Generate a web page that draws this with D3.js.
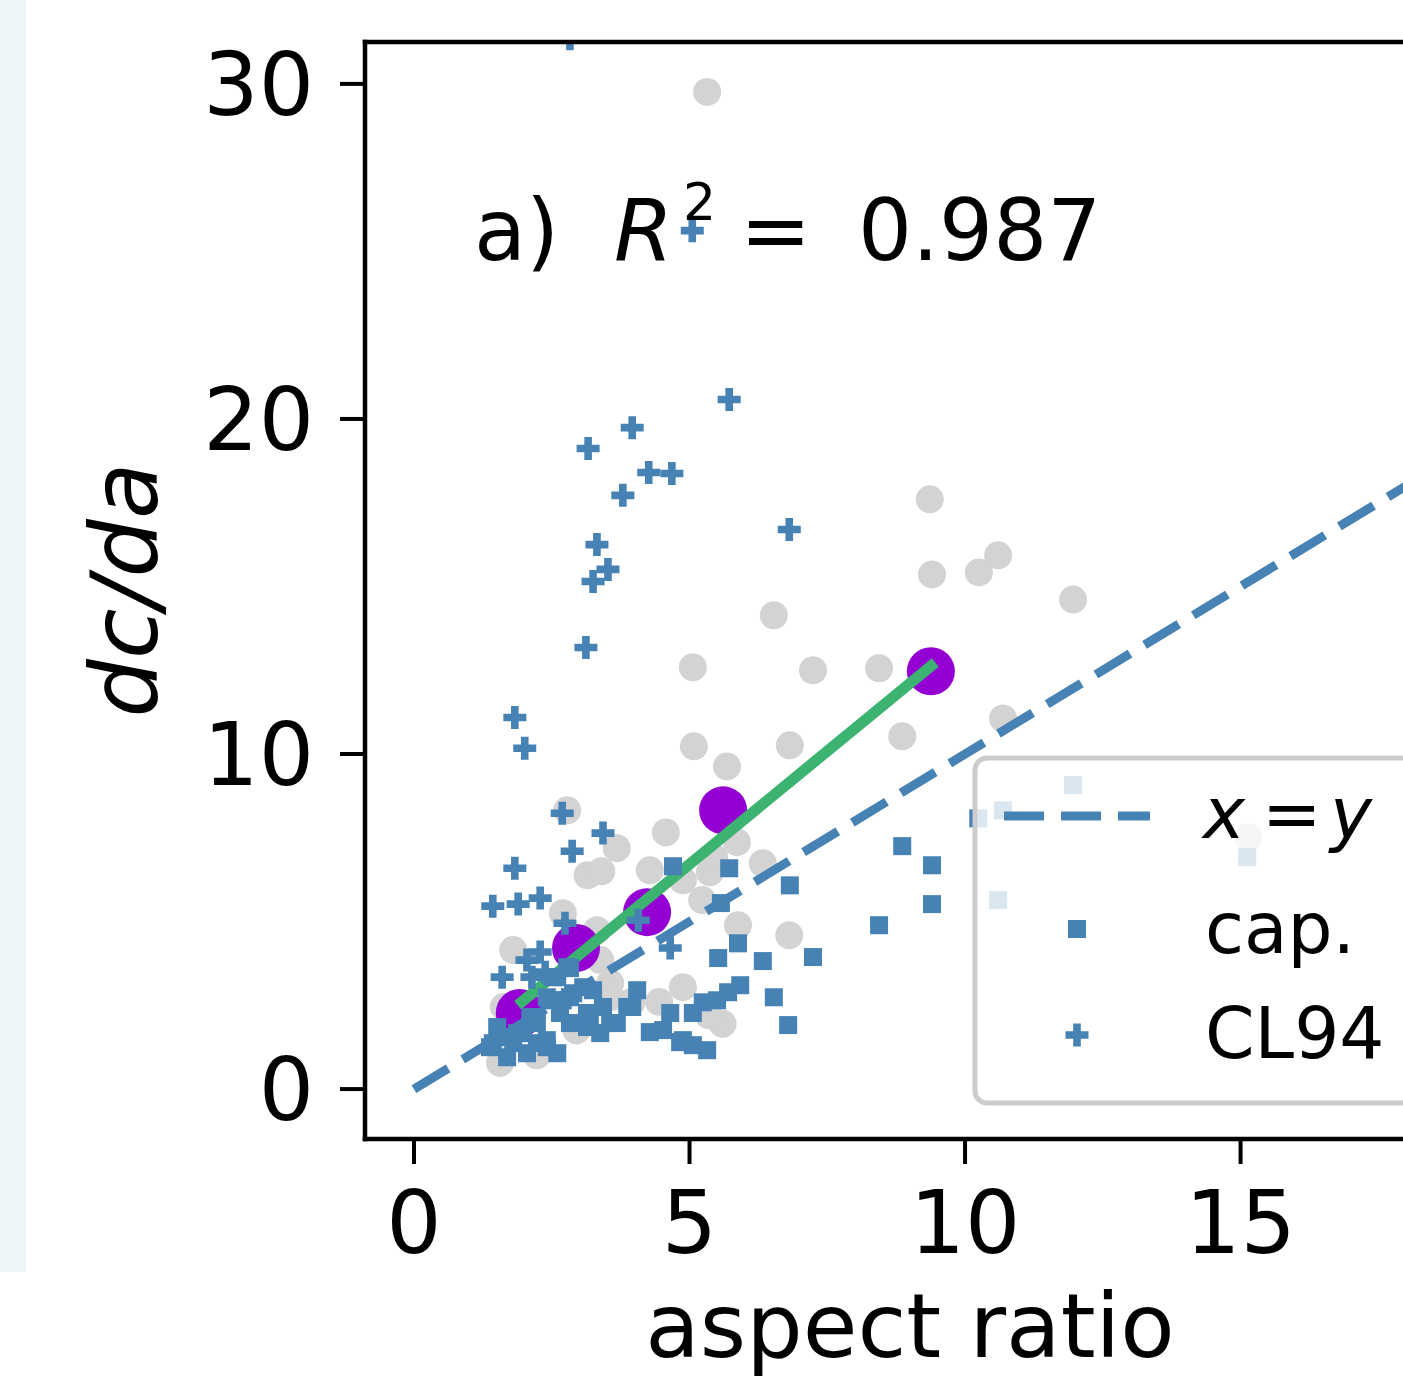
<!DOCTYPE html>
<html>
<head>
<meta charset="utf-8">
<script src="https://cdn.jsdelivr.net/npm/d3@7"></script>
<style>
  html, body { margin: 0; padding: 0; background: #ffffff; }
  svg { display: block; }
  text { font-family: "DejaVu Sans", sans-serif; fill: #000; }
</style>
</head>
<body>
<svg id="chart" width="1403" height="1380"></svg>
<script>
// ---------------- data ----------------
const xTicks = [0, 5, 10, 15];
const yTicks = [0, 10, 20, 30];

// grey background points
const grayX = [5.32, 9.36, 9.40, 10.25, 10.60, 11.96, 6.53, 5.06, 7.24, 8.44, 8.86, 10.69, 5.08, 6.82, 5.68,
  15.14, 2.78, 4.57, 3.68, 3.15, 3.40, 4.28, 4.88, 5.37, 5.86, 6.33, 5.23, 5.88, 6.81, 2.70, 1.80, 3.32,
  3.38, 3.56, 3.56, 4.88, 5.60, 1.63, 1.56, 2.23, 2.95, 3.95, 4.45, 5.45, 5.35];
const grayY = [29.76, 17.60, 15.36, 15.42, 15.93, 14.61, 14.14, 12.59, 12.50, 12.56, 10.53, 11.06, 10.23, 10.26, 9.63,
  7.52, 8.32, 7.66, 7.19, 6.38, 6.50, 6.53, 6.23, 6.47, 7.37, 6.74, 5.64, 4.89, 4.59, 5.25, 4.15, 4.74,
  3.85, 3.16, 2.74, 3.04, 1.95, 2.45, 0.78, 1.01, 1.75, 2.60, 2.60, 6.90, 2.20];

// "cap." squares
const capX = [8.86, 9.40, 9.40, 8.44, 7.24, 6.82, 6.33, 5.88, 5.52, 5.57, 5.72, 4.70, 6.53, 5.92, 5.70, 5.50,
  5.24, 5.06, 4.65, 6.79, 4.28, 4.52, 4.83, 5.06, 5.32, 4.05, 3.87, 3.68, 3.38, 3.19, 3.14, 3.43, 3.25,
  2.83, 2.83, 2.60, 2.65, 2.89, 2.41, 2.83, 2.11, 1.98, 1.51, 1.43, 1.80, 2.23, 2.41, 2.60, 1.69, 2.05,
  1.87, 2.16, 2.70, 2.78, 1.38, 2.52, 3.07, 3.56, 3.96, 2.23, 2.41, 2.52, 1.56, 3.14, 4.88,
  11.96, 10.69, 10.24, 15.12, 10.60];
const capY = [7.25, 6.68, 5.52, 4.89, 3.94, 6.08, 3.82, 4.35, 3.91, 5.55, 6.59, 6.65, 2.74, 3.10, 2.89, 2.65,
  2.59, 2.27, 2.27, 1.91, 1.70, 1.76, 1.40, 1.31, 1.16, 2.95, 2.45, 1.97, 1.67, 1.97, 2.27, 2.45, 2.95,
  2.74, 3.61, 3.34, 2.27, 2.86, 2.74, 1.97, 2.15, 1.67, 1.85, 1.37, 1.37, 1.37, 1.25, 1.07, 0.95, 1.07,
  1.67, 2.06, 2.65, 3.64, 1.25, 2.65, 3.04, 1.97, 2.45, 1.97, 1.46, 3.34, 1.55, 1.85, 1.46,
  9.07, 8.32, 8.08, 6.92, 5.64];

// "CL94" pluses
const cl94X = [2.83, 5.05, 5.72, 3.96, 3.16, 4.26, 4.68, 3.79, 6.81, 3.32, 3.52, 3.25, 3.12, 1.83, 2.01,
  2.69, 3.43, 2.87, 1.83, 1.43, 1.89, 2.29, 2.74, 4.07, 4.65, 1.60, 2.05, 2.29, 2.14, 2.38];
const cl94Y = [31.35, 25.62, 20.58, 19.74, 19.12, 18.40, 18.37, 17.72, 16.70, 16.25, 15.51, 15.15, 13.18, 11.09, 10.17,
  8.23, 7.64, 7.10, 6.59, 5.46, 5.52, 5.70, 4.95, 5.04, 4.21, 3.34, 3.85, 4.09, 3.34, 3.49];

// binned means (purple) and fit line (green)
const binX = [1.92, 2.94, 4.23, 5.61, 9.38];
const binY = [2.27, 4.21, 5.28, 8.32, 12.47];
const fitX = [1.88, 9.46];
const fitY = [2.50, 12.73];

// identity line x = y
const idX = [0, 20];
const idY = [0, 20];

const annotation = { label: "a)", stat: "R", sup: "2", value: "0.987" };
const legendItems = ["x = y", "cap.", "CL94"];

// ---------------- layout ----------------
const plot = { left: 365, top: 42, right: 1461, bottom: 1139 };
const x = d3.scaleLinear().domain([-0.889, 19.0]).range([plot.left, plot.right]);
const y = d3.scaleLinear().domain([-1.49, 31.25]).range([plot.bottom, plot.top]);

const C = { gray: "#d3d3d3", blue: "#4682b4", purple: "#9400d3", green: "#3cb371" };

const svg = d3.select("#chart");

// light strip at the left edge
svg.append("rect").attr("x", 0).attr("y", 0).attr("width", 26).attr("height", 1272).attr("fill", "#eef6fa");

svg.append("defs").append("clipPath").attr("id", "clip")
  .append("rect").attr("x", plot.left).attr("y", plot.top)
  .attr("width", plot.right - plot.left).attr("height", plot.bottom - plot.top);

const g = svg.append("g").attr("clip-path", "url(#clip)");

const zip = (a, b) => a.map((v, i) => [v, b[i]]);

// grey circles
g.append("g").selectAll("circle").data(zip(grayX, grayY)).join("circle")
  .attr("cx", d => x(d[0])).attr("cy", d => y(d[1])).attr("r", 14).attr("fill", C.gray);

// purple circles
g.append("g").selectAll("circle").data(zip(binX, binY)).join("circle")
  .attr("cx", d => x(d[0])).attr("cy", d => y(d[1])).attr("r", 24).attr("fill", C.purple);

// green fit line
g.append("path").datum(zip(fitX, fitY))
  .attr("d", d3.line().x(d => x(d[0])).y(d => y(d[1])))
  .attr("stroke", C.green).attr("stroke-width", 11).attr("fill", "none");

// dashed identity line
g.append("path").datum(zip(idX, idY))
  .attr("d", d3.line().x(d => x(d[0])).y(d => y(d[1])))
  .attr("stroke", C.blue).attr("stroke-width", 9).attr("fill", "none")
  .attr("stroke-dasharray", "40,17");

// squares
const sq = 18;
g.append("g").selectAll("rect").data(zip(capX, capY)).join("rect")
  .attr("x", d => x(d[0]) - sq / 2).attr("y", d => y(d[1]) - sq / 2)
  .attr("width", sq).attr("height", sq).attr("fill", C.blue);

// plus markers (filled)
const plusPath = (a, t) => `M${-t},${-a}H${t}V${-t}H${a}V${t}H${t}V${a}H${-t}V${t}H${-a}V${-t}H${-t}Z`;
g.append("g").selectAll("path").data(zip(cl94X, cl94Y)).join("path")
  .attr("transform", d => `translate(${x(d[0])},${y(d[1])})`)
  .attr("d", plusPath(11.5, 3.8)).attr("fill", C.blue);

// ---------------- axes ----------------
const spineW = 4.5;
svg.append("line").attr("x1", plot.left).attr("x2", plot.left).attr("y1", plot.top - spineW/2).attr("y2", plot.bottom + spineW/2)
  .attr("stroke", "#000").attr("stroke-width", spineW);
svg.append("line").attr("x1", plot.left - spineW/2).attr("x2", plot.right).attr("y1", plot.bottom).attr("y2", plot.bottom)
  .attr("stroke", "#000").attr("stroke-width", spineW);
svg.append("line").attr("x1", plot.left - spineW/2).attr("x2", plot.right).attr("y1", plot.top).attr("y2", plot.top)
  .attr("stroke", "#000").attr("stroke-width", spineW);

const xAxis = svg.append("g");
xAxis.selectAll("line").data(xTicks).join("line")
  .attr("x1", d => x(d)).attr("x2", d => x(d)).attr("y1", plot.bottom).attr("y2", plot.bottom + 25)
  .attr("stroke", "#000").attr("stroke-width", 4);
xAxis.selectAll("text").data(xTicks).join("text")
  .attr("x", d => x(d)).attr("y", 1253).attr("text-anchor", "middle")
  .attr("font-size", 87).text(d => d);

const yAxis = svg.append("g");
yAxis.selectAll("line").data(yTicks).join("line")
  .attr("x1", plot.left - 25).attr("x2", plot.left).attr("y1", d => y(d)).attr("y2", d => y(d))
  .attr("stroke", "#000").attr("stroke-width", 4);
yAxis.selectAll("text").data(yTicks).join("text")
  .attr("x", 314).attr("y", d => y(d) + 31).attr("text-anchor", "end")
  .attr("font-size", 87).text(d => d);

svg.append("text").attr("x", 910).attr("y", 1357).attr("text-anchor", "middle")
  .attr("font-size", 89).text("aspect ratio");

svg.append("text").attr("transform", "translate(157,590) rotate(-90)").attr("text-anchor", "middle")
  .attr("font-size", 92).attr("font-style", "italic").text("dc/da");

// annotation
const ann = svg.append("text").attr("y", 260).attr("font-size", 85);
ann.append("tspan").attr("x", 474).text(annotation.label);
ann.append("tspan").attr("x", 614).attr("font-style", "italic").text(annotation.stat);
ann.append("tspan").attr("x", 683).attr("dy", -40).attr("font-size", 52).text(annotation.sup);
ann.append("tspan").attr("x", 740).attr("dy", 40).text("=");
ann.append("tspan").attr("x", 858).text(annotation.value);

// ---------------- legend ----------------
const lg = svg.append("g");
lg.append("rect").attr("x", 975).attr("y", 758).attr("width", 600).attr("height", 345).attr("rx", 12)
  .attr("fill", "#ffffff").attr("fill-opacity", 0.8).attr("stroke", "#cccccc").attr("stroke-width", 5);
const rowY = [816, 929, 1035];
lg.append("line").attr("x1", 1004).attr("x2", 1150).attr("y1", rowY[0]).attr("y2", rowY[0])
  .attr("stroke", C.blue).attr("stroke-width", 9).attr("stroke-dasharray", "40,17");
lg.append("rect").attr("x", 1077 - sq/2).attr("y", rowY[1] - sq/2).attr("width", sq).attr("height", sq).attr("fill", C.blue);
lg.append("path").attr("transform", `translate(1077,${rowY[2]})`).attr("d", plusPath(11.5, 3.8)).attr("fill", C.blue);

const t0 = lg.append("text").attr("x", 1203).attr("y", rowY[0] + 22).attr("font-size", 71);
t0.append("tspan").attr("font-style", "italic").text("x");
t0.append("tspan").attr("x", 1262).text("=");
t0.append("tspan").attr("x", 1330).attr("font-style", "italic").text("y");
lg.append("text").attr("x", 1205).attr("y", rowY[1] + 24).attr("font-size", 71).text(legendItems[1]);
lg.append("text").attr("x", 1205).attr("y", rowY[2] + 23).attr("font-size", 71).text(legendItems[2]);
</script>
</body>
</html>
